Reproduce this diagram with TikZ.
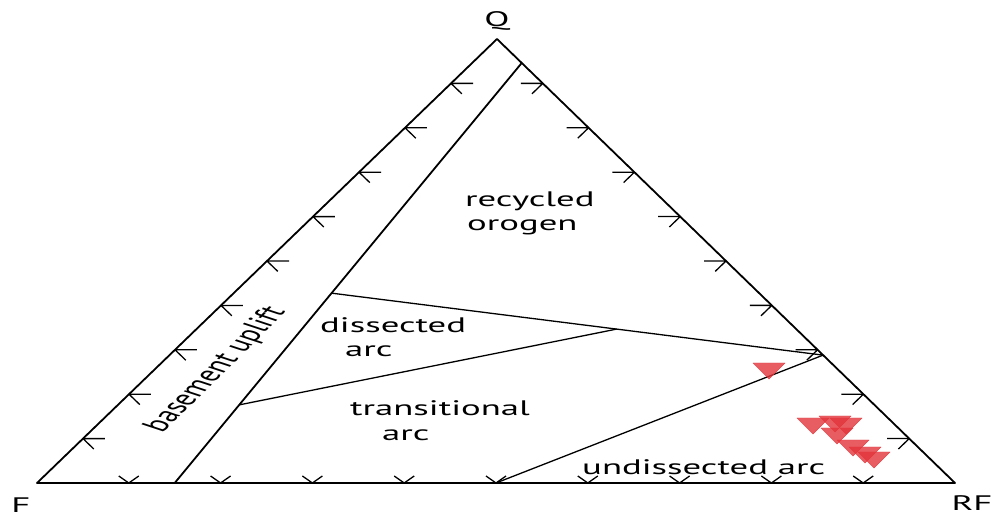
\documentclass[tikz,border=0pt]{standalone}
\usepackage{fontspec}
\newfontfamily\lblfont{PT Sans}
\usetikzlibrary{calc}
\newcommand{\wide}[1]{\scalebox{1.75}[1]{#1}}
\tikzset{
	edge/.style = {line width=1.8pt, line join=round},
	field/.style = {line width=1.3pt},
	tickmark/.style = {line width=1.3pt},
	lbl/.style = {font=\lblfont\fontsize{21}{25}\selectfont, inner sep=0pt},
	sample/.style = {fill={rgb,255:red,226;green,52;blue,58}, fill opacity=0.8,
		draw={rgb,255:red,226;green,52;blue,58}, draw opacity=0.8, line width=0.4pt}
}
\begin{document}
\begin{tikzpicture}[x=1pt, y=-1pt]
	\useasboundingbox (0,0) rectangle (997,518);
	\coordinate (F) at (37,483);
	\coordinate (Q) at (497,39);
	\coordinate (RF) at (955,483);
	\draw [edge] (F) -- (Q) -- (RF) -- cycle;
	% basement uplift boundary
	\coordinate (bu1) at ($(F)!0.15!(RF)$);
	\coordinate (bu2) at ($(Q)!0.054!(RF)$);
	\draw [edge] (bu1) -- (bu2);
	% arc fields
	\coordinate (a1) at ($(bu1)!0.452!(bu2)$);
	\coordinate (a2) at ($(Q)!0.712!(RF)$);
	\coordinate (b1) at ($(bu1)!0.186!(bu2)$);
	\coordinate (b2) at ($(a1)!0.58!(a2)$);
	\coordinate (c1) at ($(F)!0.5!(RF)$);
	\draw [field] (a1) -- (a2);
	\draw [field] (b1) -- (b2);
	\draw [field] (c1) -- (a2);
	% ticks every 10%
	\foreach \k in {1,...,9} {
		\coordinate (tl) at ($(F)!\k/10!(Q)$);
		\coordinate (tr) at ($(Q)!\k/10!(RF)$);
		\coordinate (tb) at ($(F)!\k/10!(RF)$);
		\draw [tickmark] (tl) -- ++(22,0) (tl) -- ++(10.8,10.4);
		\draw [tickmark] (tr) -- ++(-22,0) (tr) -- ++(-10.8,10.4);
		\draw [tickmark] (tb) -- ++(-10,-7) (tb) -- ++(10,-7);
	}
	% samples
	\foreach \x/\y in {769/363, 813/418, 835/416, 846/418, 837/428, 853/440, 865/447, 874/452}
		\draw [sample] (\x-16,\y) -- (\x+16,\y) -- (\x,\y+16) -- cycle;
	% labels
	\node [lbl] (qlab) at (497,21) {\wide{Q}};
	\node [lbl] (flab) at (21,505) {\wide{F}};
	\node [lbl] (rflab) at (972,503) {\wide{RF}};
	\node [lbl, anchor=base west] (recyc) at (465,207) {\wide{recycled}};
	\node [lbl, anchor=base west] (orog) at (467,231) {\wide{orogen}};
	\node [lbl, anchor=base west] (dissec) at (320,333) {\wide{dissected}};
	\node [lbl, anchor=base west] (darc) at (345,357) {\wide{arc}};
	\node [lbl, anchor=base west] (trans) at (350,416) {\wide{transitional}};
	\node [lbl, anchor=base west] (tarc) at (382,441) {\wide{arc}};
	\node [lbl, anchor=base west] (undis) at (582,475) {\wide{undissected arc}};
	\node [lbl] (basem) at (216,370) {\wide{\rotatebox{60}{basement uplift}}};
\end{tikzpicture}
\end{document}
